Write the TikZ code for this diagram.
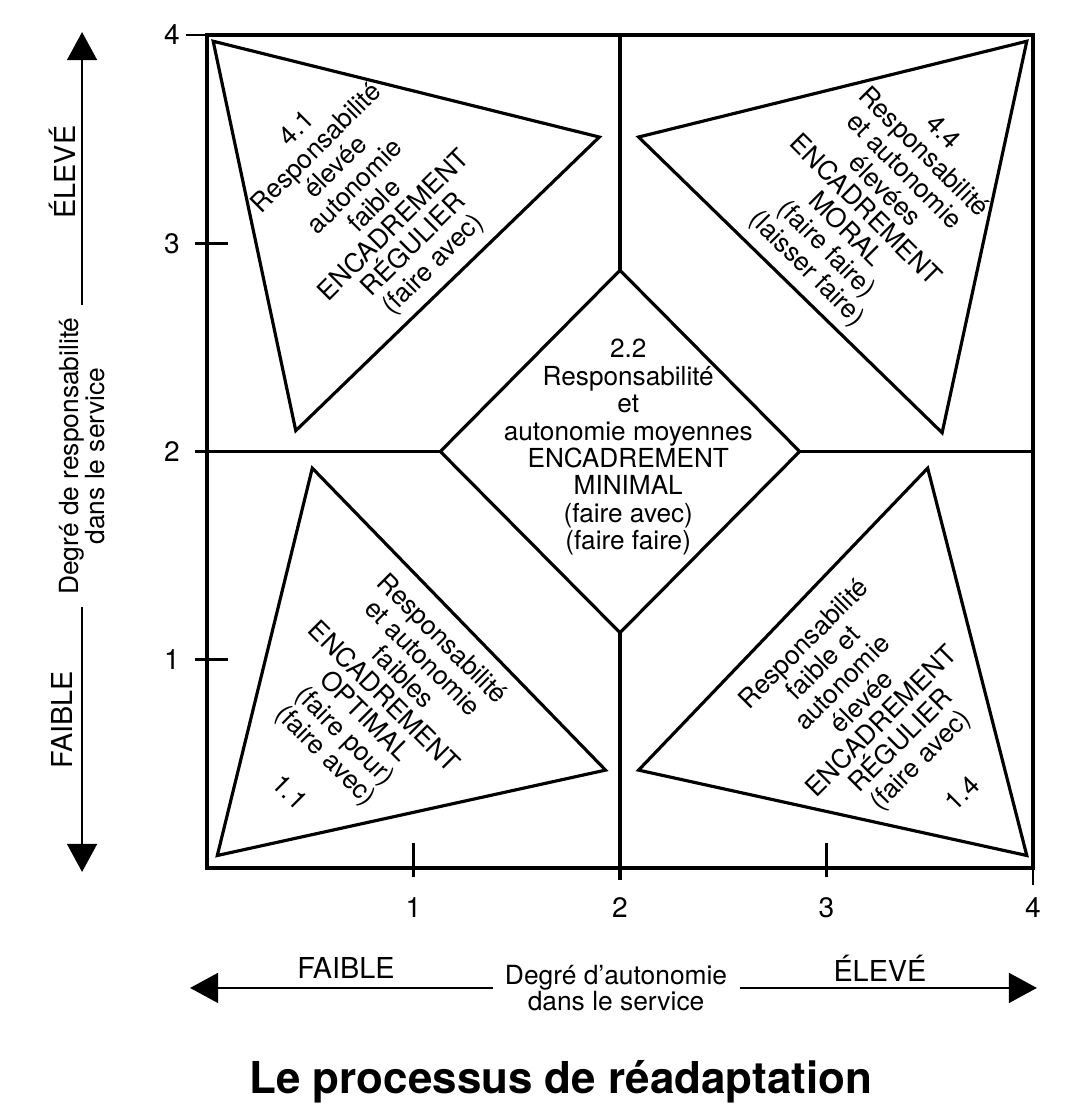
\documentclass[tikz,border=0pt]{standalone}
\usepackage{fontspec}
\setmainfont{TeX Gyre Heros}
\usetikzlibrary{arrows.meta}

\begin{document}
\begin{tikzpicture}[x=2.065cm,y=2.0825cm]
    \tikzset{
        frame/.style={line width=0.9pt,line join=miter},
        zone/.style={align=center,font=\fontsize{7.45}{7.8}\selectfont,inner sep=0pt},
        axis/.style={line width=0.7pt,-{Triangle[width=8.5pt,length=8pt]}},
        axislabel/.style={font=\fontsize{8.2}{9}\selectfont},
        axistitle/.style={align=center,font=\fontsize{7.5}{7.3}\selectfont},
        tickmark/.style={line width=0.8pt},
        ticklabel/.style={font=\fontsize{8}{9}\selectfont},}
    \useasboundingbox (-1.0024,-1.2053) rectangle (4.2615,4.1681);
    % square and central diamond
    \coordinate (dt) at (2,2.87);
    \coordinate (db) at (2,1.13);
    \coordinate (dl) at (1.13,2);
    \coordinate (dr) at (2.87,2);
    \draw [frame] (0,0) rectangle (4,4);
    \draw [frame] (dt) -- (dr) -- (db) -- (dl) -- cycle;
    \draw [frame] (2,4) -- (dt) (db) -- (2,-0.06) (0,2) -- (dl) (dr) -- (4,2);
    % corner triangles
    \draw [frame] (0.03,3.97) -- (1.9,3.51) -- (0.43,2.1) -- cycle;
    \draw [frame] (3.97,3.97) -- (2.09,3.51) -- (3.56,2.09) -- cycle;
    \draw [frame] (0.05,0.06) -- (1.93,0.47) -- (0.51,1.92) -- cycle;
    \draw [frame] (3.97,0.06) -- (2.09,0.47) -- (3.49,1.92) -- cycle;
    % ticks
    \foreach \t in {1,3} {
        \draw [tickmark] (-0.06,\t) -- (0.1,\t);
        \draw [tickmark] (\t,-0.045) -- (\t,0.12);
    }
    \draw [tickmark] (-0.1,4) -- (0,4) (-0.06,2) -- (0,2) (4,0) -- (4,-0.08);
    \foreach \t in {1,...,4} {
        \node [ticklabel] (y\t) at (-0.17,\t) {\t};
        \node [ticklabel] (x\t) at (\t,-0.19) {\t};
    }
    % texts of the zones
    \node [zone,rotate=45] (z41) at (0.77,3.22) {4.1\\Responsabilité\\élevée\\autonomie\\faible\\ENCADREMENT\\RÉGULIER\\(faire avec)};
    \node [zone,rotate=-45] (z44) at (3.23,3.20) {4.4\\Responsabilité\\et autonomie\\élevées\\ENCADREMENT\\MORAL\\(faire faire)\\(laisser faire)};
    \node [zone] (z22) at (2.04,2.02) {2.2\\Responsabilité\\et\\autonomie moyennes\\ENCADREMENT\\MINIMAL\\(faire avec)\\(faire faire)};
    \node [zone,rotate=-45] (z11) at (0.852,0.816) {Responsabilité\\et autonomie\\faibles\\ENCADREMENT\\OPTIMAL\\(faire pour)\\(faire avec)};
    \node [zone,rotate=-45] (n11) at (0.402,0.365) {1.1};
    \node [zone,rotate=45] (z14) at (3.177,0.792) {Responsabilité\\faible et\\autonomie\\élevée\\ENCADREMENT\\RÉGULIER\\(faire avec)};
    \node [zone,rotate=45] (n14) at (3.656,0.36) {1.4};
    % vertical axis
    \coordinate (ytop) at (-0.605,4.014);
    \coordinate (ybot) at (-0.605,-0.019);
    \node [axistitle,rotate=90] (ytitle) at (-0.605,1.978) {Degré de responsabilité\\dans le service};
    \draw [axis] (ytitle) -- (ytop);
    \draw [axis] (ytitle) -- (ybot);
    \node [axislabel,rotate=90] (yhigh) at (-0.702,3.342) {ÉLEVÉ};
    \node [axislabel,rotate=90] (ylow) at (-0.702,0.711) {FAIBLE};
    % horizontal axis
    \coordinate (xleft) at (-0.082,-0.576);
    \coordinate (xright) at (4.019,-0.576);
    \node [axistitle] (xtitle) at (1.981,-0.576) {Degré d{\char"0027}autonomie\\dans le service};
    \draw [axis] (xtitle) -- (xleft);
    \draw [axis] (xtitle) -- (xright);
    \node [axislabel] (xlow) at (0.673,-0.48) {FAIBLE};
    \node [axislabel] (xhigh) at (3.259,-0.48) {ÉLEVÉ};
    % title
    \node [font=\bfseries\fontsize{12.5}{14}\selectfont] (title) at (1.714,-1.028) {Le processus de réadaptation};
\end{tikzpicture}
\end{document}
